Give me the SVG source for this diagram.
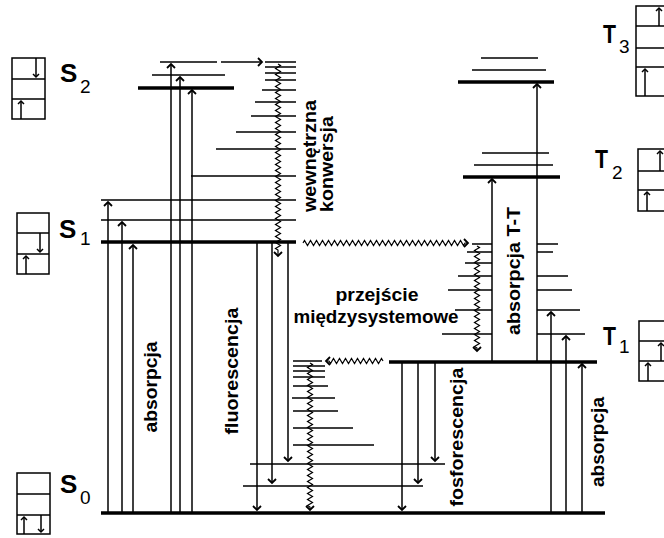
<svg xmlns="http://www.w3.org/2000/svg" width="664" height="538" viewBox="0 0 664 538">
<defs>
<style>
.lv{stroke:#000;stroke-width:3.5;fill:none}
.vb{stroke:#000;stroke-width:1.5;fill:none}
.ar{stroke:#000;stroke-width:1.5;fill:none;marker-end:url(#ah)}
.wv{stroke:#000;stroke-width:1.2;fill:none;marker-end:url(#ah)}
.bx{stroke:#000;stroke-width:1.5;fill:#fff}
.sp{stroke:#000;stroke-width:1.5;fill:none;marker-end:url(#sh)}
.lb{font-family:"Liberation Sans",Arial,sans-serif;font-weight:bold;font-size:18px;fill:#000}
.st{font-family:"Liberation Sans",Arial,sans-serif;font-weight:bold;font-size:26px;fill:#000}
.sb{font-family:"Liberation Sans",Arial,sans-serif;font-size:19px;fill:#000}
</style>
<marker id="ah" markerUnits="userSpaceOnUse" markerWidth="10" markerHeight="10" viewBox="-6 -5 10 10" refX="0" refY="0" orient="auto"><path d="M-4,-4 L0,0 L-4,4" fill="none" stroke="#000" stroke-width="1.8"/></marker>
<marker id="sh" markerUnits="userSpaceOnUse" markerWidth="8" markerHeight="8" viewBox="-5 -4 8 8" refX="0" refY="0" orient="auto"><path d="M-3,-3 L0,0 L-3,3" fill="none" stroke="#000" stroke-width="1.5"/></marker>
</defs>
<rect x="0" y="0" width="664" height="538" fill="#fff"/>

<g id="S0">
<path class="lv" d="M101,513 H605"/>
<path class="vb" d="M250,464 H445 M243,486 H423 M293,445 H374 M293,428 H353 M293,411 H338 M292,398 H335 M293,386 H328 M293,377 H325 M293,371 H325 M293,366 H325 M293,361 H322"/>
</g>
<g id="S1">
<path class="lv" d="M101,242 H296"/>
<path class="vb" d="M101,200 H296 M101,220 H296 M191,176 H296 M216,149 H296 M236,132 H296 M251,116 H296 M255,102 H296 M262,90 H296 M265,80 H296 M265,73 H296 M265,67 H296 M265,62 H296"/>
</g>
<g id="S2">
<path class="lv" d="M138,88 H234"/>
<path class="vb" d="M152,75 H225 M160,62 H217"/>
</g>
<g id="T1">
<path class="lv" d="M389,362 H597"/>
<path class="vb" d="M472,244 H492 M467,252 H492 M465,263 H492 M458,276 H492 M448,290 H492 M455,310 H492 M442,334 H492 M537,244 H558 M537,252 H553 M537,276 H568 M537,290 H572 M537,310 H580 M537,334 H585"/>
</g>
<g id="T2">
<path class="lv" d="M463,177 H560"/>
<path class="vb" d="M474,165 H553 M482,153 H549"/>
</g>
<g id="T3">
<path class="lv" d="M458,82 H554"/>
<path class="vb" d="M472,70 H546 M481,58 H538"/>
</g>

<g id="connectors">
<path class="ar" d="M108,513 V202"/>
<path class="ar" d="M122,513 V222"/>
<path class="ar" d="M133,513 V245"/>
<path class="ar" d="M171,513 V64"/>
<path class="ar" d="M180,513 V77"/>
<path class="ar" d="M192,513 V90"/>
<path class="ar" d="M221,62 H262"/>
<path class="ar" d="M257,242 V510"/>
<path class="ar" d="M272,242 V483"/>
<path class="ar" d="M288,242 V461"/>
<path class="ar" d="M402,362 V510"/>
<path class="ar" d="M418,362 V483"/>
<path class="ar" d="M435,362 V461"/>
<path class="ar" d="M492,362 V179"/>
<path class="ar" d="M537,362 V84"/>
<path class="ar" d="M551,513 V312"/>
<path class="ar" d="M566,513 V336"/>
<path class="ar" d="M582,513 V364"/>
<path class="wv" d="M278,64 l2.5,1.5 l-5,3 l5,3 l-5,3 l5,3 l-5,3 l5,3 l-5,3 l5,3 l-5,3 l5,3 l-5,3 l5,3 l-5,3 l5,3 l-5,3 l5,3 l-5,3 l5,3 l-5,3 l5,3 l-5,3 l5,3 l-5,3 l5,3 l-5,3 l5,3 l-5,3 l5,3 l-5,3 l5,3 l-5,3 l5,3 l-5,3 l5,3 l-5,3 l5,3 l-5,3 l5,3 l-5,3 l5,3 l-5,3 l5,3 l-5,3 l5,3 l-5,3 l5,3 l-5,3 l5,3 l-5,3 l5,3 l-5,3 l5,3 l-5,3 l5,3 l-5,3 l5,3 l-5,3 l5,3 l-5,3 l5,3 l-5,3 l2.5,1.5 l0,6"/>
<path class="wv" d="M477,246 l2.5,1.5 l-5,3 l5,3 l-5,3 l5,3 l-5,3 l5,3 l-5,3 l5,3 l-5,3 l5,3 l-5,3 l5,3 l-5,3 l5,3 l-5,3 l5,3 l-5,3 l5,3 l-5,3 l5,3 l-5,3 l5,3 l-5,3 l5,3 l-5,3 l5,3 l-5,3 l5,3 l-5,3 l5,3 l-5,3 l5,3 l-5,3 l2.5,1.5 l0,3"/>
<path class="wv" d="M310,363 l2.5,1.5 l-5,3 l5,3 l-5,3 l5,3 l-5,3 l5,3 l-5,3 l5,3 l-5,3 l5,3 l-5,3 l5,3 l-5,3 l5,3 l-5,3 l5,3 l-5,3 l5,3 l-5,3 l5,3 l-5,3 l5,3 l-5,3 l5,3 l-5,3 l5,3 l-5,3 l5,3 l-5,3 l5,3 l-5,3 l5,3 l-5,3 l5,3 l-5,3 l5,3 l-5,3 l5,3 l-5,3 l5,3 l-5,3 l5,3 l-5,3 l5,3 l-5,3 l5,3 l-5,3 l2.5,1.5 l0,3"/>
<path class="wv" d="M303,243 l1.5,-2.5 l3,5 l3,-5 l3,5 l3,-5 l3,5 l3,-5 l3,5 l3,-5 l3,5 l3,-5 l3,5 l3,-5 l3,5 l3,-5 l3,5 l3,-5 l3,5 l3,-5 l3,5 l3,-5 l3,5 l3,-5 l3,5 l3,-5 l3,5 l3,-5 l3,5 l3,-5 l3,5 l3,-5 l3,5 l3,-5 l3,5 l3,-5 l3,5 l3,-5 l3,5 l3,-5 l3,5 l3,-5 l3,5 l3,-5 l3,5 l3,-5 l3,5 l3,-5 l3,5 l3,-5 l3,5 l3,-5 l3,5 l3,-5 l3,5 l1.5,-2.5 l3,0"/>
<path class="wv" d="M383,361 l-1.5,-2.5 l-3,5 l-3,-5 l-3,5 l-3,-5 l-3,5 l-3,-5 l-3,5 l-3,-5 l-3,5 l-3,-5 l-3,5 l-3,-5 l-3,5 l-3,-5 l-3,5 l-3,-5 l-3,5 l-1.5,-2.5 l-3,0"/>
</g>

<g id="spin-S2">
<rect class="bx" x="12" y="58" width="33" height="61"/>
<path class="vb" d="M12,79 H45 M12,99 H45"/>
<path class="sp" d="M36,58 V77"/>
<path class="sp" d="M21,119 V101"/>
</g>
<g id="spin-S1">
<rect class="bx" x="17" y="213" width="32" height="61"/>
<path class="vb" d="M17,233 H49 M17,254 H49"/>
<path class="sp" d="M40,233 V252"/>
<path class="sp" d="M26,274 V256"/>
</g>
<g id="spin-S0">
<rect class="bx" x="17" y="473" width="33" height="61"/>
<path class="vb" d="M17,494 H50 M17,515 H50"/>
<path class="sp" d="M24,534 V517"/>
<path class="sp" d="M41,515 V532"/>
</g>
<g id="spin-T3">
<rect class="bx" x="636" y="6" width="34" height="90"/>
<path class="vb" d="M636,26 H670 M636,48 H670 M636,67 H670"/>
<path class="sp" d="M659,26 V8"/>
<path class="sp" d="M645,96 V69"/>
</g>
<g id="spin-T2">
<rect class="bx" x="638" y="149" width="34" height="62"/>
<path class="vb" d="M638,171 H672 M638,190 H672"/>
<path class="sp" d="M660,171 V151"/>
<path class="sp" d="M647,211 V192"/>
</g>
<g id="spin-T1">
<rect class="bx" x="639" y="321" width="34" height="60"/>
<path class="vb" d="M639,341 H673 M639,361 H673"/>
<path class="sp" d="M661,361 V343"/>
<path class="sp" d="M648,381 V363"/>
</g>

<g id="state-labels">
<text class="st" x="60" y="82">S</text><text class="sb" x="80" y="93">2</text>
<text class="st" x="59" y="238">S</text><text class="sb" x="80" y="245">1</text>
<text class="st" x="60" y="493">S</text><text class="sb" x="80" y="504">0</text>
<text class="st" x="603" y="43" textLength="13" lengthAdjust="spacingAndGlyphs">T</text><text class="sb" x="619" y="53">3</text>
<text class="st" x="595" y="168" textLength="13" lengthAdjust="spacingAndGlyphs">T</text><text class="sb" x="612" y="179">2</text>
<text class="st" x="603" y="345" textLength="13" lengthAdjust="spacingAndGlyphs">T</text><text class="sb" x="619" y="353">1</text>
</g>

<g id="process-labels">
<text class="lb" transform="translate(157,387) rotate(-90)" text-anchor="middle" textLength="91" lengthAdjust="spacingAndGlyphs">absorpcja</text>
<text class="lb" transform="translate(238,371) rotate(-90)" text-anchor="middle" textLength="127" lengthAdjust="spacingAndGlyphs">fluorescencja</text>
<text class="lb" transform="translate(316,212) rotate(-90)" textLength="112" lengthAdjust="spacingAndGlyphs">wewnętrzna</text>
<text class="lb" transform="translate(333,212) rotate(-90)" textLength="96" lengthAdjust="spacingAndGlyphs">konwersja</text>
<text class="lb" x="377" y="301" text-anchor="middle" textLength="83" lengthAdjust="spacingAndGlyphs">przejście</text>
<text class="lb" x="376" y="323" text-anchor="middle" textLength="165" lengthAdjust="spacingAndGlyphs">międzysystemowe</text>
<text class="lb" transform="translate(520,271) rotate(-90)" text-anchor="middle" textLength="128" lengthAdjust="spacingAndGlyphs">absorpcja T-T</text>
<text class="lb" transform="translate(463,437) rotate(-90)" text-anchor="middle" textLength="139" lengthAdjust="spacingAndGlyphs">fosforescencja</text>
<text class="lb" transform="translate(604,442) rotate(-90)" text-anchor="middle" textLength="90" lengthAdjust="spacingAndGlyphs">absorpcja</text>
</g>
</svg>
